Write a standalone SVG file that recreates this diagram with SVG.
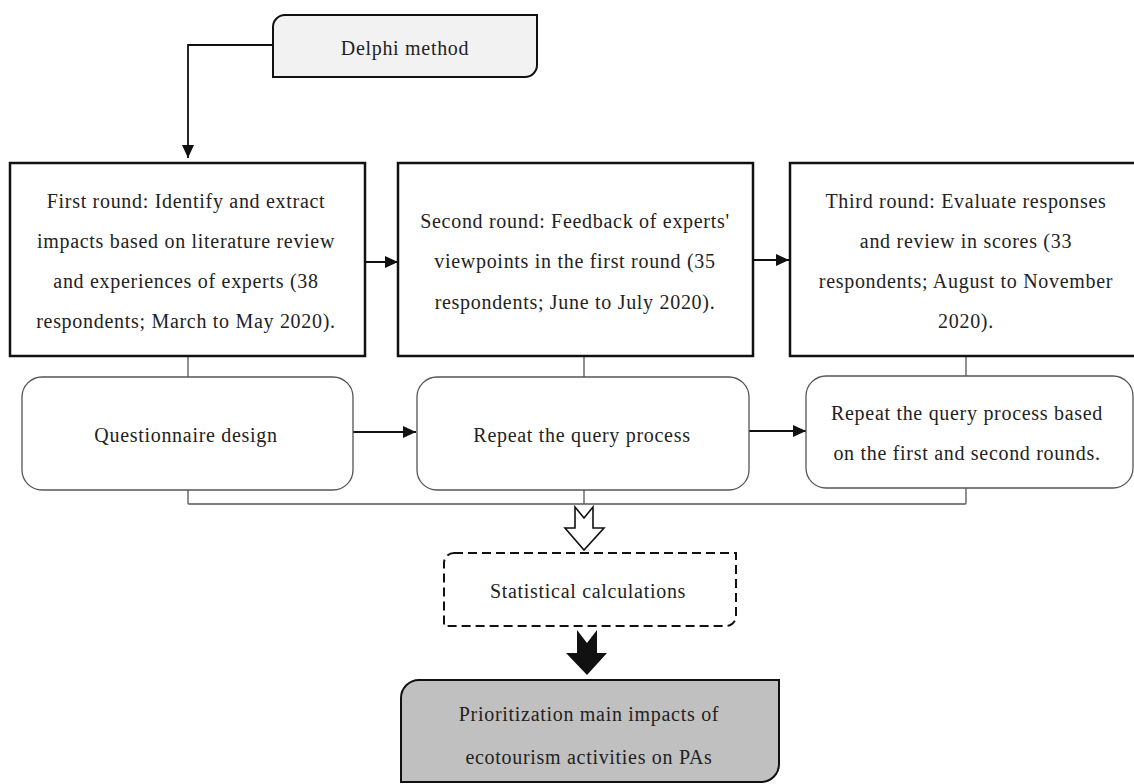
<svg xmlns="http://www.w3.org/2000/svg" width="1134" height="784" viewBox="0 0 1134 784">
<style>
.t{font-family:"Liberation Serif","Times New Roman",serif;font-size:20px;fill:#222;text-anchor:middle;letter-spacing:0.7px}
.main{fill:#fff;stroke:#111;stroke-width:2.5}
.soft{fill:#fff;stroke:#555;stroke-width:1.3}
.ln{fill:none;stroke:#555;stroke-width:1.3}
.ar{fill:none;stroke:#111;stroke-width:1.8}
</style>
<defs>
<marker id="ah" viewBox="0 0 13 12" refX="13" refY="6" markerWidth="13" markerHeight="12" markerUnits="userSpaceOnUse" orient="auto">
<path d="M0,0 L13,6 L0,12 Z" fill="#111"/>
</marker>
</defs>
<rect width="1134" height="784" fill="#fff"/>
<g id="connectors">
<path class="ar" d="M273,45 H188 V158" marker-end="url(#ah)"/>
<path class="ar" d="M365,262 H398" marker-end="url(#ah)"/>
<path class="ar" d="M753,260 H789" marker-end="url(#ah)"/>
<line class="ln" x1="188" y1="357" x2="188" y2="377"/>
<line class="ln" x1="584" y1="357" x2="584" y2="377"/>
<line class="ln" x1="966" y1="357" x2="966" y2="376"/>
<path class="ar" d="M353,432 H416" stroke-width="1.3" marker-end="url(#ah)"/>
<path class="ar" d="M749,431 H806" stroke-width="1.3" marker-end="url(#ah)"/>
<path class="ln" d="M188,490 V503 Q188,504 189,504 H965 Q966,504 966,503 V488"/>
<line class="ln" x1="584" y1="490" x2="584" y2="504"/>
<path d="M575,507 L584,518 L593,507 L593,528 L604,528 L584,550 L565,528 L575,528 Z" fill="#fff" stroke="#111" stroke-width="1.6"/>
<path d="M577,630 L587,643 L597,630 L597,653 L607,653 L587,675 L566,653 L577,653 Z" fill="#111"/>
</g>
<g id="delphi">
<path d="M285,15 H537 V65 A12,12 0 0 1 525,77 H273 V27 A12,12 0 0 1 285,15 Z" fill="#f2f2f2" stroke="#111" stroke-width="2"/>
<text class="t" x="405" y="55" font-size="19">Delphi method</text>
</g>
<g id="round1">
<rect class="main" x="10" y="163" width="355" height="193"/>
<text class="t" x="186" y="208">First round:  Identify and extract</text>
<text class="t" x="186" y="248">impacts based on literature review</text>
<text class="t" x="186" y="288">and experiences of experts (38</text>
<text class="t" x="186" y="328">respondents; March to May 2020).</text>
</g>
<g id="round2">
<rect class="main" x="398" y="163" width="355" height="193"/>
<text class="t" x="575" y="228">Second round: Feedback of experts'</text>
<text class="t" x="575" y="268">viewpoints in the first round (35</text>
<text class="t" x="575" y="309">respondents; June to July 2020).</text>
</g>
<g id="round3">
<rect class="main" x="790" y="163" width="354" height="193"/>
<text class="t" x="966" y="208">Third round: Evaluate responses</text>
<text class="t" x="966" y="248">and review in scores (33</text>
<text class="t" x="966" y="288">respondents; August to November</text>
<text class="t" x="966" y="328">2020).</text>
</g>
<g id="questionnaire">
<rect class="soft" x="22" y="377" width="331" height="113" rx="20"/>
<text class="t" x="186" y="442">Questionnaire design</text>
</g>
<g id="repeat1">
<rect class="soft" x="417" y="377" width="332" height="113" rx="20"/>
<text class="t" x="582" y="442">Repeat the query process</text>
</g>
<g id="repeat2">
<rect class="soft" x="806" y="376" width="327" height="112" rx="20"/>
<text class="t" x="967" y="420">Repeat the query process based</text>
<text class="t" x="967" y="460">on the first and second rounds.</text>
</g>
<g id="statistics">
<path d="M454,553 H736 V616 A10,10 0 0 1 726,626 H444 V563 A10,10 0 0 1 454,553 Z" fill="#fff" stroke="#111" stroke-width="2" stroke-dasharray="9,5"/>
<text class="t" x="588" y="598">Statistical calculations</text>
</g>
<g id="prioritization">
<path d="M419,680 H779 V764 A18,18 0 0 1 761,782 H401 V698 A18,18 0 0 1 419,680 Z" fill="#c0c0c0" stroke="#111" stroke-width="2"/>
<text class="t" x="589" y="721">Prioritization main impacts of</text>
<text class="t" x="589" y="764">ecotourism activities on PAs</text>
</g>
</svg>
